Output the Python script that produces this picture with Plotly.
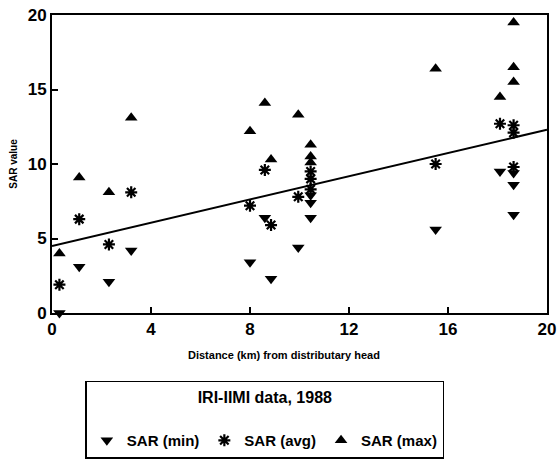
import plotly.graph_objects as go

# Distance (km) from distributary head for each sampled site
distance_km = [0.3, 1.1, 2.3, 3.2, 8.0, 8.6, 8.85, 9.95, 10.45, 10.45, 10.45,
               15.5, 18.1, 18.65, 18.65, 18.65]
sar_min = [0.0, 3.1, 2.1, 4.2, 3.4, 6.4, 2.3, 4.4, 7.9, 7.4, 6.4,
           5.6, 9.5, 9.4, 8.6, 6.6]
sar_avg = [1.9, 6.3, 4.6, 8.1, 7.2, 9.6, 5.9, 7.8, 9.5, 9.0, 8.3,
           10.0, 12.7, 12.6, 12.1, 9.8]
sar_max = [4.0, 9.1, 8.1, 13.1, 12.2, 14.1, 10.3, 13.3, 11.3, 10.5, 10.1,
           16.4, 14.5, 19.5, 16.5, 15.5]

# fitted trend line end points
trend_x = [0, 20]
trend_y = [4.5, 12.3]

x_ticks = [0, 4, 8, 12, 16, 20]
y_ticks = [0, 5, 10, 15, 20]

FONT = "Liberation Sans"

fig = go.Figure()
fig.add_trace(go.Scatter(x=trend_x, y=trend_y, mode="lines",
                         line=dict(color="black", width=2),
                         showlegend=False, hoverinfo="skip"))
fig.add_trace(go.Scatter(x=distance_km, y=sar_min, mode="markers", name="SAR (min)",
                         cliponaxis=False,
                         marker=dict(symbol="triangle-down", size=11, color="black")))
fig.add_trace(go.Scatter(x=distance_km, y=sar_avg, mode="markers", name="SAR (avg)",
                         cliponaxis=False,
                         marker=dict(symbol="asterisk-open", size=10, color="black",
                                     line=dict(color="black", width=2.2))))
fig.add_trace(go.Scatter(x=distance_km, y=sar_max, mode="markers", name="SAR (max)",
                         cliponaxis=False,
                         marker=dict(symbol="triangle-up", size=11, color="black")))

axis_common = dict(showline=True, linecolor="black", linewidth=2, mirror=True,
                   ticks="inside", ticklen=6, tickwidth=1.5, tickcolor="black",
                   showgrid=False, zeroline=False, automargin=False,
                   tickfont=dict(family=FONT, size=17, color="black", weight="bold"))

fig.update_xaxes(range=[0, 20], tickvals=x_ticks, **axis_common)
fig.update_yaxes(range=[0, 20], tickvals=y_ticks,
                 title=dict(text="SAR value", standoff=8,
                            font=dict(family=FONT, size=10, color="black", weight="bold")),
                 **axis_common)

fig.add_annotation(text="Distance (km) from distributary head",
                   xref="paper", yref="paper", x=0.469, y=-0.141,
                   xanchor="center", yanchor="middle", showarrow=False,
                   font=dict(family=FONT, size=11, color="black", weight="bold"))

fig.update_layout(
    width=557, height=464,
    margin=dict(l=52, r=10, t=15, b=151, autoexpand=False),
    paper_bgcolor="white", plot_bgcolor="white",
    showlegend=True,
    legend=dict(
        orientation="h", x=0.43, y=-0.228, xanchor="center", yanchor="top",
        bordercolor="black", borderwidth=1.5, bgcolor="white",
        title=dict(text="IRI-IIMI data, 1988<br> ", side="top center",
                   font=dict(family=FONT, size=16, color="black", weight="bold")),
        font=dict(family=FONT, size=15, color="black", weight="bold"),
        itemwidth=30, tracegroupgap=0,
    ),
)

fig.write_html("out.html")
